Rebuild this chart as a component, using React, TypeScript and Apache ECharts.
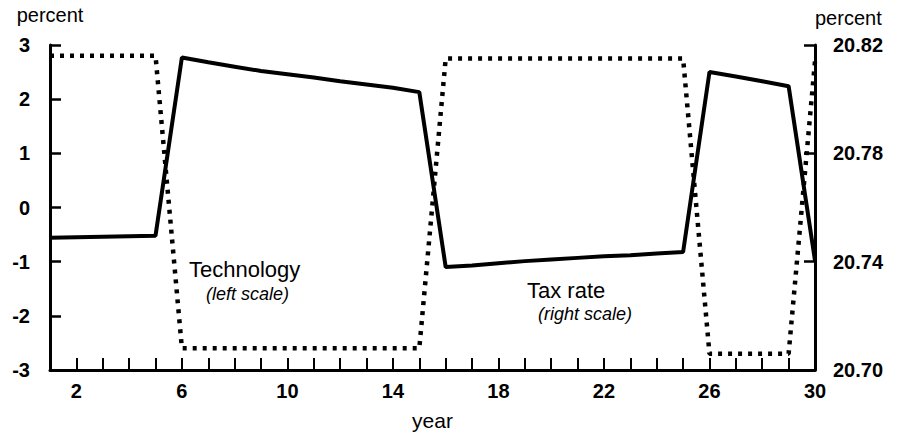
import React, { useEffect, useRef } from "react";
import * as echarts from "echarts";

const years = ["1","2","3","4","5","6","7","8","9","10","11","12","13","14","15","16","17","18","19","20","21","22","23","24","25","26","27","28","29","30"];

// Technology, percent (left scale)
const technology = [-0.56, -0.55, -0.54, -0.53, -0.52, 2.77, 2.68, 2.6, 2.52, 2.46, 2.4, 2.33, 2.27, 2.21, 2.13, -1.1, -1.07, -1.03, -0.99, -0.96, -0.93, -0.9, -0.88, -0.85, -0.82, 2.5, 2.42, 2.33, 2.24, -0.98];

// Tax rate, percent (right scale)
const taxRate = [20.816, 20.816, 20.816, 20.816, 20.816, 20.708, 20.708, 20.708, 20.708, 20.708, 20.708, 20.708, 20.708, 20.708, 20.708, 20.815, 20.815, 20.815, 20.815, 20.815, 20.815, 20.815, 20.815, 20.815, 20.815, 20.706, 20.706, 20.706, 20.706, 20.814];

const leftTicks = [-3, -2, -1, 0, 1, 2, 3];
const rightTicks = [20.7, 20.74, 20.78, 20.82];
const xLabelYears = ["2", "6", "10", "14", "18", "22", "26", "30"];

const FONT = '"Liberation Sans", Arial, Helvetica, sans-serif';

export default function App() {
  const ref = useRef<HTMLDivElement>(null);
  useEffect(() => {
    if (!ref.current) return;
    document.body.style.margin = "0";
    const chart = echarts.init(ref.current, null, { renderer: "svg" });
    chart.setOption({
      animation: false,
      backgroundColor: "#ffffff",
      textStyle: { fontFamily: FONT, color: "#000" },
      grid: { left: 50, right: 82, top: 45, height: 332 },
      xAxis: {
        type: "category",
        data: years,
        boundaryGap: false,
        name: "year",
        nameLocation: "middle",
        nameGap: 40,
        nameTextStyle: { fontSize: 21, color: "#000", fontFamily: FONT },
        axisLine: { show: true, onZero: false, lineStyle: { color: "#000", width: 3 } },
        axisTick: { show: true, inside: true, interval: 0, length: 12, lineStyle: { color: "#000", width: 2 } },
        axisLabel: {
          interval: (i: number, v: string) => xLabelYears.indexOf(v) >= 0,
          fontSize: 20,
          fontWeight: "bold",
          color: "#000",
          margin: 11,
          fontFamily: FONT,
        },
        splitLine: { show: false },
      },
      yAxis: [
        {
          type: "value",
          position: "left",
          min: leftTicks[0],
          max: leftTicks[leftTicks.length - 1],
          interval: 1,
          name: "percent",
          nameLocation: "end",
          nameGap: 20,
          nameTextStyle: { fontSize: 20, color: "#000", fontFamily: FONT, align: "center" },
          axisLine: { show: true, onZero: false, lineStyle: { color: "#000", width: 3 } },
          axisTick: { show: true, inside: true, length: 11, lineStyle: { color: "#000", width: 2.5 } },
          axisLabel: { fontSize: 20, fontWeight: "bold", color: "#000", margin: 20, fontFamily: FONT },
          splitLine: { show: false },
        },
        {
          type: "value",
          position: "right",
          min: rightTicks[0],
          max: rightTicks[rightTicks.length - 1],
          name: "percent",
          nameLocation: "end",
          nameGap: 17,
          nameTextStyle: { fontSize: 20, color: "#000", fontFamily: FONT, align: "left" },
          axisLine: { show: true, onZero: false, lineStyle: { color: "#000", width: 3 } },
          axisTick: { show: true, inside: true, length: 11, customValues: rightTicks, lineStyle: { color: "#000", width: 2.5 } },
          axisLabel: {
            fontSize: 20,
            fontWeight: "bold",
            color: "#000",
            margin: 18,
            fontFamily: FONT,
            customValues: rightTicks,
            formatter: (v: number) => v.toFixed(2),
          },
          splitLine: { show: false },
        },
      ],
      series: [
        {
          name: "Technology",
          type: "line",
          yAxisIndex: 0,
          data: technology,
          symbol: "none",
          lineStyle: { color: "#000", width: 4, type: "solid" },
          z: 3,
        },
        {
          name: "Tax rate",
          type: "line",
          yAxisIndex: 1,
          data: taxRate,
          symbol: "none",
          lineStyle: { color: "#000", width: 4.5, type: [4, 6] },
          z: 2,
        },
      ],
      graphic: [
        { type: "text", left: 189, top: 258, style: { text: "Technology", font: `22px ${FONT}`, fill: "#000" } },
        { type: "text", left: 206, top: 285, style: { text: "(left scale)", font: `italic 18px ${FONT}`, fill: "#000" } },
        { type: "text", left: 527, top: 279, style: { text: "Tax rate", font: `22px ${FONT}`, fill: "#000" } },
        { type: "text", left: 538, top: 305, style: { text: "(right scale)", font: `italic 18px ${FONT}`, fill: "#000" } },
      ],
    });
    return () => chart.dispose();
  }, []);
  return <div ref={ref} style={{ width: 897, height: 436 }} />;
}
